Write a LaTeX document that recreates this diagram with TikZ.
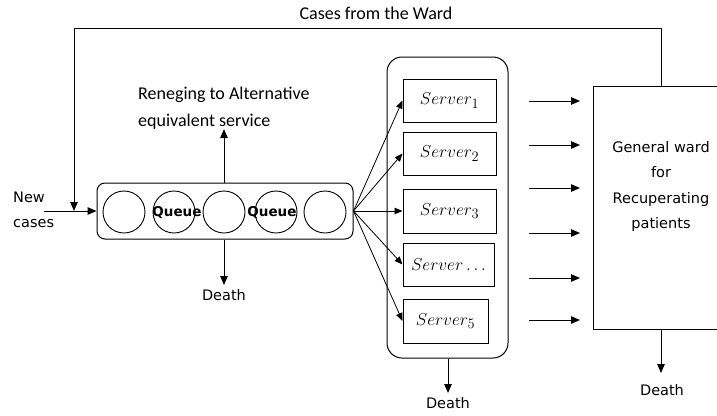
\documentclass[tikz,border=0pt]{standalone}
\usepackage[no-math]{fontspec}
\setmainfont{DejaVu Sans}
\newfontfamily\calib{Carlito}
\usetikzlibrary{arrows.meta}
\begin{document}
\begin{tikzpicture}[x=1pt,y=-1pt,
  arr/.style={-{Triangle[length=9pt,width=7.5pt]}, line width=1pt},
  fan/.style={-{Triangle[length=8pt,width=6.5pt]}, line width=0.8pt},
  serverbox/.style={draw, line width=1pt, inner sep=0pt, minimum width=93pt, minimum height=43pt, font=\fontsize{19}{22}\selectfont},
  qcircle/.style={draw, circle, line width=0.9pt, minimum size=42pt, inner sep=0pt},
  lbl/.style={inner sep=0pt, font=\fontsize{14.5}{25.5}\selectfont},
  clbl/.style={inner sep=0pt, font=\calib\fontsize{18}{27}\selectfont},
  qlbl/.style={inner sep=0pt, font=\bfseries\fontsize{13.5}{16}\selectfont}]
\useasboundingbox (0,0) rectangle (717,415);
\clip (0,0) rectangle (717,415);

% queue
\node[draw, rounded corners=8pt, line width=1pt, minimum width=256pt, minimum height=56pt, inner sep=0pt] (qbox) at (225,211) {};
\node[qcircle] (c1) at (124,212) {};
\node[qcircle] (c2) at (174,212) {};
\node[qcircle] (c3) at (224,212) {};
\node[qcircle] (c4) at (276,212) {};
\node[qcircle] (c5) at (325,212) {};
\node[qlbl] (q1) at (177,212) {Queue};
\node[qlbl] (q2) at (272,212) {Queue};

% servers
\node[draw, rounded corners=15pt, line width=1pt, minimum width=121pt, minimum height=301pt, inner sep=0pt] (sg) at (447.5,207.5) {};
\node[serverbox] (s1) at (449.5,100.5) {$Server_1$};
\node[serverbox] (s2) at (449.5,153.5) {$Server_2$};
\node[serverbox, minimum height=44pt] (s3) at (449.5,211) {$Server_3$};
\node[serverbox, minimum width=91pt] (s4) at (448.5,264.5) {$Server\ldots$};
\node[serverbox, minimum width=85pt, minimum height=44pt] (s5) at (445.5,321) {$Server_5$};

% ward
\node[draw, line width=1pt, minimum width=136pt, minimum height=243pt, inner sep=0pt] (ward) at (661,207.5) {};
\node[lbl, align=center] (wardtxt) at (661,186.5) {General ward\\for\\Recuperating\\patients};

% texts
\node[clbl] (cft) at (376,13) {Cases from the Ward};
\node[clbl, align=left, anchor=west] (ren) at (138,108.5) {Reneging to Alternative\\equivalent service};
\node[lbl, align=left, anchor=west] (nc) at (13,210) {New\\cases};
\node[lbl] (d1) at (224,295) {Death};
\node[lbl] (d2) at (448,403) {Death};
\node[lbl] (d3) at (662,390) {Death};

% coordinates
\coordinate (fbtop) at (74,28);
\coordinate (fbtip) at (74,211);
\coordinate (ncstart) at (44,211);
\coordinate (rtip) at (224,129);
\coordinate (d1tip) at (224,285);
\coordinate (d2tip) at (448,393);
\coordinate (d3tip) at (661,373);

% connectors
\draw[line width=1pt] (ward.north) |- (fbtop);
\draw[arr] (fbtop) -- (fbtip);
\draw[arr] (ncstart) -- (qbox.west);
\draw[arr] (c3 |- qbox.north) -- (rtip);
\draw[arr] (c3 |- qbox.south) -- (d1tip);
\draw[arr] (sg.south -| d2tip) -- (d2tip);
\draw[arr] (ward.south) -- (d3tip);
\foreach \s in {s1,s2,s3,s4,s5} \draw[fan] (qbox.east) -- (\s.west);
\foreach \i/\y in {1/101,2/145,3/188,4/233,5/278,6/320} {
  \coordinate (wa\i) at (529,\y);
  \coordinate (wb\i) at (580,\y);
  \draw[arr] (wa\i) -- (wb\i);
}
\end{tikzpicture}
\end{document}
